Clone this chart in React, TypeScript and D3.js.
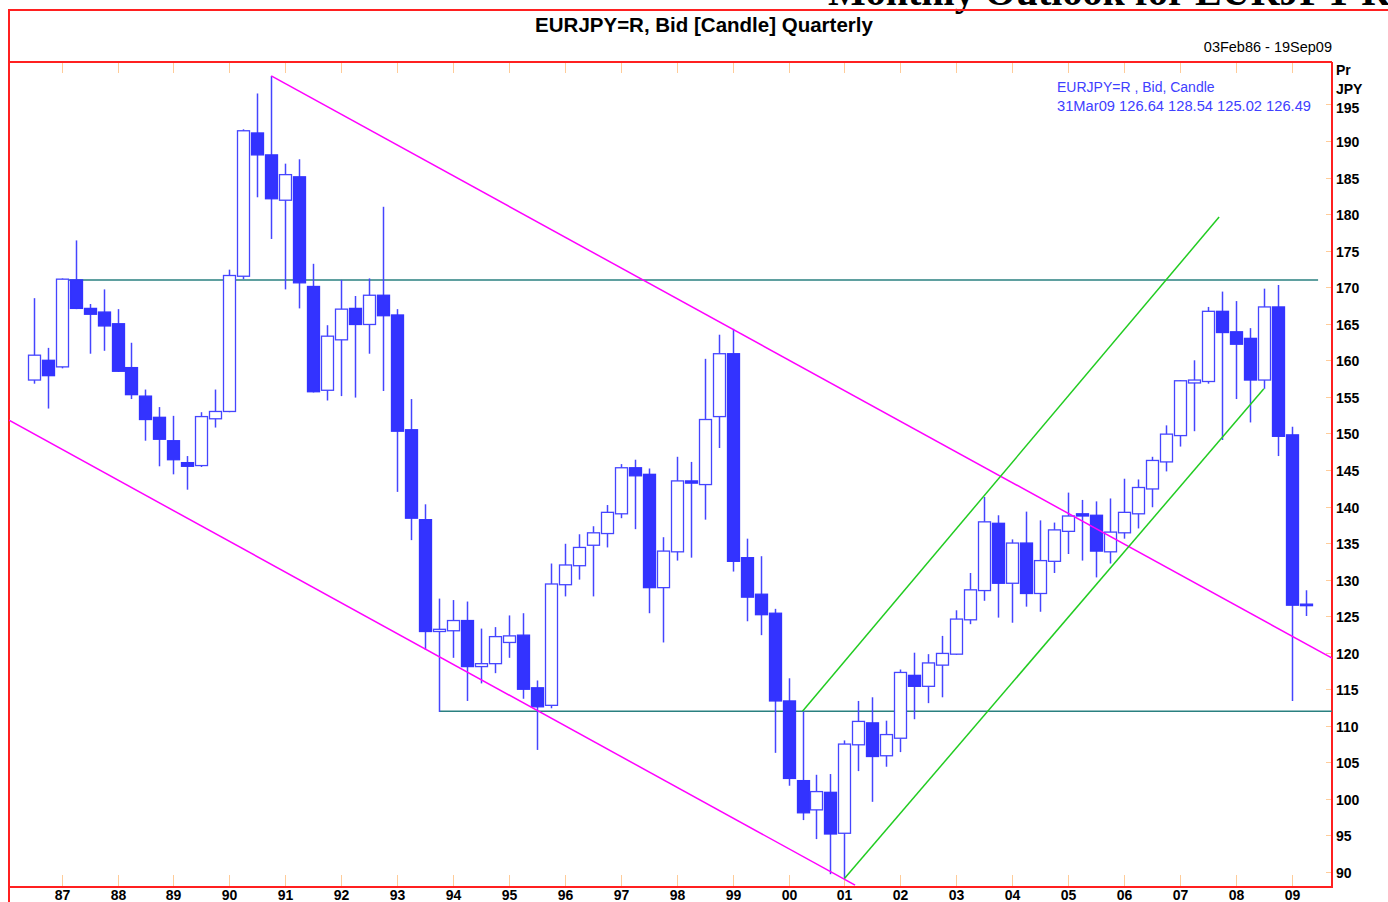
import React from "react";
import * as d3 from "d3";

// ---------- DATA ----------
const opens = [
  157.3, 160.0, 159.1, 171.0, 167.1, 166.6, 165.0, 159.0, 155.1, 152.2,
  149.0, 146.0, 145.6, 152.0, 153.0, 171.5, 191.1, 188.1, 181.9, 185.1,
  170.1, 155.9, 162.8, 167.1, 164.9, 168.9, 166.2, 150.5, 138.2, 122.9,
  123.0, 124.4, 118.1, 118.5, 121.4, 122.4, 115.2, 112.8, 129.3, 131.9,
  134.7, 136.3, 139.0, 145.3, 144.4, 128.9, 133.8, 143.5, 143.0, 152.3,
  160.9, 133.0, 128.0, 125.4, 113.4, 102.5, 98.5, 100.9, 95.3, 107.4,
  110.4, 105.9, 108.3, 116.9, 115.4, 118.3, 119.8, 124.5, 128.5, 137.7,
  129.5, 135.0, 128.1, 132.5, 136.6, 139.0, 138.8, 133.8, 136.4, 139.0,
  142.4, 146.1, 149.7, 156.9, 157.1, 166.7, 163.9, 163.0, 157.3, 167.3,
  149.8, 126.64,
];
const highs = [
  168.5, 161.7, 171.2, 176.4, 167.7, 169.7, 167.0, 162.4, 156.0, 153.6,
  152.4, 146.9, 152.9, 156.0, 172.4, 191.6, 196.5, 198.9, 186.9, 187.5,
  173.2, 164.8, 171.0, 168.8, 171.2, 181.0, 167.0, 154.7, 140.3, 127.4,
  127.2, 127.0, 123.3, 123.5, 125.1, 125.4, 116.2, 132.2, 134.9, 136.2,
  137.3, 140.2, 145.8, 146.4, 145.2, 135.8, 146.8, 146.1, 160.2, 163.5,
  164.3, 135.6, 133.2, 126.0, 116.5, 112.0, 103.3, 103.4, 108.0, 113.4,
  113.9, 110.7, 117.7, 120.0, 119.8, 122.3, 125.8, 130.9, 141.3, 138.8,
  135.5, 139.3, 138.1, 137.8, 141.9, 140.9, 140.7, 141.1, 143.8, 143.7,
  146.8, 151.1, 157.3, 160.0, 167.3, 169.4, 168.1, 164.4, 169.8, 170.3,
  150.9, 128.54,
];
const lows = [
  156.8, 153.4, 158.9, 167.0, 160.9, 161.3, 158.4, 154.7, 149.0, 145.5,
  144.4, 142.3, 145.4, 150.8, 152.9, 171.1, 182.3, 176.6, 169.7, 167.1,
  155.6, 154.5, 155.1, 154.9, 160.9, 155.8, 142.0, 135.4, 120.4, 111.9,
  119.3, 113.4, 115.8, 117.2, 119.3, 113.7, 106.7, 112.4, 127.7, 130.0,
  127.7, 134.4, 138.4, 136.9, 125.4, 121.4, 132.6, 133.0, 138.2, 148.0,
  131.1, 124.3, 122.4, 106.3, 101.8, 97.1, 94.5, 89.7, 89.1, 103.8,
  99.6, 104.4, 106.4, 110.9, 113.1, 113.9, 119.7, 123.9, 127.1, 124.8,
  124.1, 126.3, 125.6, 130.9, 133.5, 132.6, 130.3, 132.2, 135.6, 137.0,
  139.9, 144.8, 148.2, 150.3, 156.8, 149.1, 154.7, 151.5, 156.1, 146.9,
  113.4, 125.02,
];
const closes = [
  160.7, 157.9, 171.1, 167.1, 166.3, 164.7, 158.5, 155.3, 151.9, 149.2,
  146.4, 145.5, 152.3, 153.0, 171.6, 191.4, 188.1, 182.1, 185.4, 170.6,
  155.7, 163.3, 167.0, 164.9, 168.9, 166.1, 150.3, 138.4, 122.9, 123.2,
  124.4, 118.1, 118.5, 122.2, 122.3, 115.0, 112.6, 129.4, 132.0, 134.4,
  136.4, 139.2, 145.3, 144.2, 128.9, 133.9, 143.5, 143.2, 151.9, 160.9,
  132.5, 127.6, 125.2, 113.4, 102.8, 98.1, 101.0, 95.2, 107.5, 110.6,
  105.8, 108.8, 117.3, 115.4, 118.6, 119.9, 124.6, 128.6, 137.9, 129.5,
  135.0, 128.1, 132.6, 136.8, 138.7, 138.7, 133.9, 136.5, 139.2, 142.6,
  146.3, 149.9, 157.2, 157.3, 166.7, 163.8, 162.2, 157.3, 167.3, 149.6,
  126.5, 126.49,
];
const firstQuarterYear = 1986.5; // first visible quarterly candle
const yearTicks = [
  1987, 1988, 1989, 1990, 1991, 1992, 1993, 1994, 1995, 1996, 1997, 1998,
  1999, 2000, 2001, 2002, 2003, 2004, 2005, 2006, 2007, 2008, 2009,
];
const yearLabels = [
  "87", "88", "89", "90", "91", "92", "93", "94", "95", "96", "97", "98",
  "99", "00", "01", "02", "03", "04", "05", "06", "07", "08", "09",
];
const priceTicks = [
  90, 95, 100, 105, 110, 115, 120, 125, 130, 135, 140, 145, 150, 155, 160,
  165, 170, 175, 180, 185, 190, 195,
];
// trend lines: [year, price] end points
const magentaLines = [
  [[1990.75, 198.9], [2009.72, 119.25]],
  [[1986.06, 151.8], [2001.19, 88.2]],
];
const greenLines = [
  [[2000.25, 112.0], [2007.7, 179.6]],
  [[2001.0, 89.1], [2008.5, 156.1]],
];
const tealLines = [
  [[1987.0, 171.0], [2009.47, 171.0]],
  [[1993.75, 112.0], [2009.72, 112.0]],
];

// ---------- LAYOUT ----------
const W = 1388;
const H = 902;
const plotL = 9;
const plotR = 1332;
const plotT = 62;
const plotB = 887;
const SANS = "'Liberation Sans', Arial, sans-serif";

const x = d3.scaleLinear().domain([1987, 2009]).range([61.6, 1291.8]);
const y = d3.scaleLinear().domain([90, 190]).range([872, 141]);

const BLUE = "#3333ff";
const ORANGE = "#ffcc99";

export default function App() {
  const line = d3
    .line<number[]>()
    .x((d) => x(d[0]))
    .y((d) => y(d[1]));
  const bodyW = 12;

  const candles = opens.map((o, i) => {
    const c = closes[i];
    const h = highs[i];
    const l = lows[i];
    const cx = Math.round(x(firstQuarterYear + 0.25 * i)) + 0.5;
    const up = c >= o;
    const top = y(Math.max(o, c));
    const bot = y(Math.min(o, c));
    return (
      <g key={i}>
        <line x1={cx} x2={cx} y1={y(h)} y2={y(l)} stroke="#4545ff" strokeWidth={1.5} />
        <rect
          x={cx - bodyW / 2}
          y={top}
          width={bodyW}
          height={Math.max(bot - top, 1.5)}
          fill={up ? "#ffffff" : BLUE}
          stroke={up ? "#4545ff" : BLUE}
          strokeWidth={1.3}
        />
      </g>
    );
  });

  return (
    <svg
      width={W}
      height={H}
      style={{ position: "absolute", left: 0, top: 0, background: "#fff" }}
    >
      <defs>
        <clipPath id="plotclip">
          <rect x={plotL} y={plotT} width={plotR - plotL} height={plotB - plotT} />
        </clipPath>
      </defs>
      {/* cropped page headline */}
      <text
        x={828}
        y={5}
        fontFamily="'Liberation Serif', 'Times New Roman', serif"
        fontWeight="bold"
        fontSize={40}
        fill="#000"
      >
        Monthly Outlook for EURJPY Rates
      </text>
      {/* frame */}
      <line x1={8} x2={W} y1={10} y2={10} stroke="#ff2020" strokeWidth={2} />
      <line x1={9} x2={9} y1={10} y2={H} stroke="#ff2020" strokeWidth={2} />
      <line x1={9} x2={plotR} y1={plotT} y2={plotT} stroke="#ff2020" strokeWidth={2} />
      <line x1={9} x2={plotR + 1} y1={plotB} y2={plotB} stroke="#ff2020" strokeWidth={2} />
      <line x1={plotR} x2={plotR} y1={plotT} y2={plotB} stroke="#ff2020" strokeWidth={2} />

      <text x={704} y={32} textAnchor="middle" fontFamily={SANS} fontWeight="bold" fontSize={20.5}>
        EURJPY=R, Bid [Candle] Quarterly
      </text>
      <text x={1332} y={52} textAnchor="end" fontFamily={SANS} fontSize={14.5}>
        03Feb86 - 19Sep09
      </text>

      {/* x ticks */}
      {yearTicks.map((yr, i) => {
        const px = Math.round(x(yr)) + 0.5;
        return (
          <g key={yr}>
            <line x1={px} x2={px} y1={plotT + 1} y2={plotT + 11} stroke={ORANGE} strokeWidth={1} />
            <line x1={px} x2={px} y1={plotB - 12} y2={plotB - 1} stroke={ORANGE} strokeWidth={1} />
            <text x={px} y={900} textAnchor="middle" fontFamily={SANS} fontWeight="bold" fontSize={14}>
              {yearLabels[i]}
            </text>
          </g>
        );
      })}

      {/* y ticks */}
      {priceTicks.map((p) => {
        const py = Math.round(y(p)) + 0.5;
        return (
          <g key={p}>
            <line x1={plotR - 6} x2={plotR - 1} y1={py} y2={py} stroke={ORANGE} strokeWidth={1} />
            <text x={1336} y={Math.max(py + 5, 113)} fontFamily={SANS} fontWeight="bold" fontSize={14}>
              {p}
            </text>
          </g>
        );
      })}
      <text x={1336} y={75} fontFamily={SANS} fontWeight="bold" fontSize={14}>Pr</text>
      <text x={1336} y={94} fontFamily={SANS} fontWeight="bold" fontSize={14}>JPY</text>

      <g clipPath="url(#plotclip)">
        {tealLines.map((d, i) => (
          <path key={"t" + i} d={line(d) || ""} stroke="#2a8080" strokeWidth={1.5} fill="none" />
        ))}
        {candles}
        {magentaLines.map((d, i) => (
          <path key={"m" + i} d={line(d) || ""} stroke="#ff00ff" strokeWidth={1.5} fill="none" />
        ))}
        {greenLines.map((d, i) => (
          <path key={"g" + i} d={line(d) || ""} stroke="#22cc22" strokeWidth={1.5} fill="none" />
        ))}
      </g>

      {/* legend */}
      <text x={1057} y={92} fontFamily={SANS} fontSize={14} fill="#4040ff">
        EURJPY=R , Bid, Candle
      </text>
      <text x={1057} y={111} fontFamily={SANS} fontSize={14.7} fill="#4040ff">
        31Mar09 126.64 128.54 125.02 126.49
      </text>
    </svg>
  );
}
